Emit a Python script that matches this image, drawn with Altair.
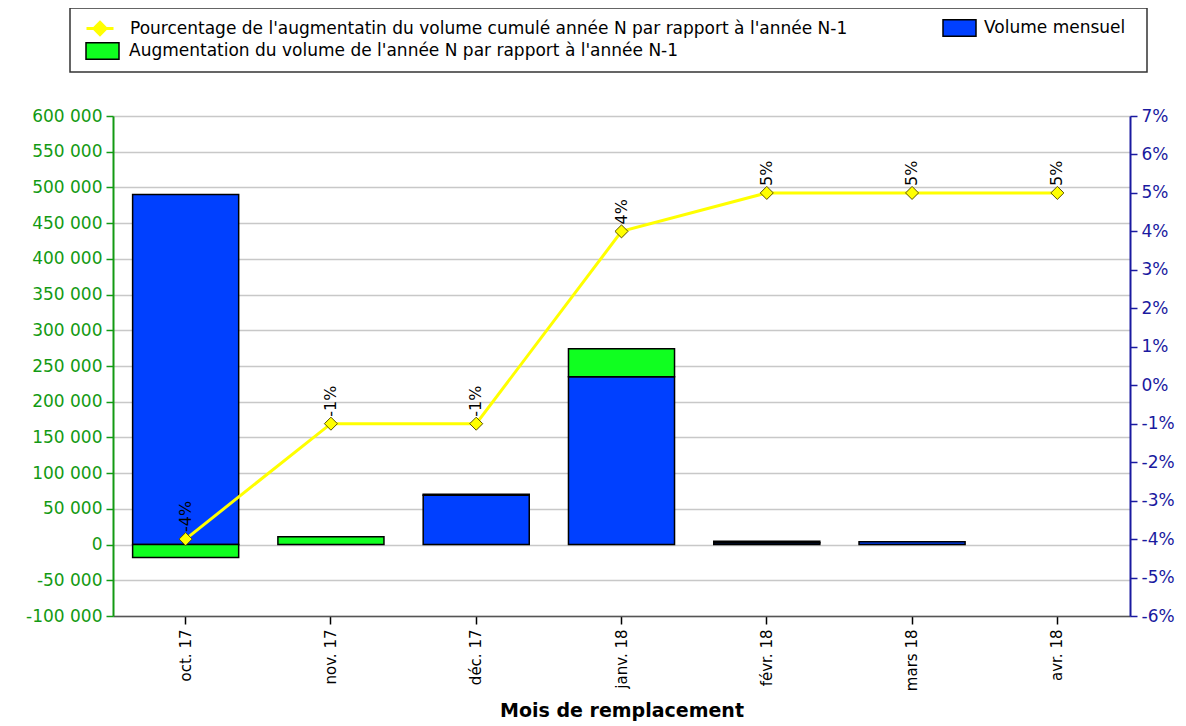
import altair as alt
import pandas as pd

# ---- data ----
months = ["oct. 17", "nov. 17", "déc. 17", "janv. 18", "févr. 18", "mars 18", "avr. 18"]
volume_mensuel = [490000, 0, 69000, 235000, 2500, 4000, 0]
augmentation = [-18000, 11000, 1500, 39000, 2000, 0, 0]
pourcentage = [-0.04, -0.01, -0.01, 0.04, 0.05, 0.05, 0.05]

left_ticks = [-100000, -50000, 0, 50000, 100000, 150000, 200000, 250000,
              300000, 350000, 400000, 450000, 500000, 550000, 600000]
right_ticks = [-0.06, -0.05, -0.04, -0.03, -0.02, -0.01, 0.0,
               0.01, 0.02, 0.03, 0.04, 0.05, 0.06, 0.07]

LBL_PCT = "Pourcentage de l'augmentatin du volume cumulé année N par rapport à l'année N-1"
LBL_VOL = "Volume mensuel"
LBL_AUG = "Augmentation du volume de l'année N par rapport à l'année N-1"

df = pd.DataFrame({"mois": months, "volume": volume_mensuel,
                   "aug": augmentation, "pct": pourcentage})
df["s_vol"] = LBL_VOL
df["s_aug"] = LBL_AUG
df["s_pct"] = LBL_PCT

# ---- styles ----
BLUE = "#0040ff"
GREEN = "#10ff20"
YELLOW = "#ffff00"
AX_GREEN = "#139a13"
AX_BLUE = "#1a1aa0"
FONT = "DejaVu Sans"

x_enc = alt.X(
    "mois:N", sort=months,
    scale=alt.Scale(paddingInner=0.27, paddingOuter=0.135),
    axis=alt.Axis(title="Mois de remplacement", labelAngle=-90, labelFont=FONT,
                  labelFontSize=15, labelColor="black", tickColor="black",
                  tickSize=8, tickWidth=1.5, labelPadding=5, domainColor="#555",
                  domainWidth=1.5, titleFont=FONT, titleFontSize=19,
                  titleFontWeight="bold", titleColor="black", titlePadding=11),
)

left_scale = alt.Scale(domain=[-100000, 600000], nice=False, zero=False)
left_axis = alt.Axis(title=None, values=left_ticks, format=",d", orient="left",
                     labelColor=AX_GREEN, domainColor=AX_GREEN, domainWidth=2,
                     tickColor=AX_GREEN, tickSize=7, tickWidth=1.5, labelPadding=4,
                     labelFont=FONT, labelFontSize=17, grid=True,
                     gridColor="#c8c8c8", gridWidth=1.5)

right_scale = alt.Scale(domain=[-0.06, 0.07], nice=False, zero=False)
right_axis = alt.Axis(title=None, values=right_ticks, format=".0%", orient="right",
                      labelColor=AX_BLUE, domainColor=AX_BLUE, domainWidth=2,
                      tickColor=AX_BLUE, tickSize=7, tickWidth=1.5, labelPadding=4,
                      labelFont=FONT, labelFontSize=17, grid=False)

RECT_PATH = "M-1,-0.5H1V0.5H-1Z"
LINE_PATH = "M-1,0H1M0,-0.45L0.45,0L0,0.45L-0.45,0Z"

def legend(x, y, path, size, stroke, sw, fill, offset):
    return alt.Legend(title=None, orient="none", legendX=x, legendY=y,
                      symbolType=path, symbolSize=size, symbolStrokeColor=stroke,
                      symbolStrokeWidth=sw, symbolFillColor=fill,
                      labelFont=FONT, labelFontSize=17, labelColor="black",
                      labelOffset=offset, labelLimit=1200, padding=0)

frame = alt.Chart(pd.DataFrame({"k": [0]})).mark_rect(
    fill="white", stroke="#333", strokeWidth=1.5
).encode(x=alt.value(-43), x2=alt.value(1034), y=alt.value(-108), y2=alt.value(-44))

blue = alt.Chart(df).transform_filter("datum.volume != 0").mark_bar(
    stroke="black", strokeWidth=1.5, opacity=1
).encode(
    x=x_enc,
    y=alt.Y("volume:Q", scale=left_scale, axis=left_axis),
    fill=alt.Fill("s_vol:N", scale=alt.Scale(domain=[LBL_VOL], range=[BLUE]),
                  legend=legend(829, -105.5, RECT_PATH, 1089, "black", 1.5, BLUE, 7)),
)

green = alt.Chart(df).transform_filter("datum.aug != 0").transform_calculate(
    base="datum.aug >= 0 ? datum.volume : 0",
    top="(datum.aug >= 0 ? datum.volume : 0) + datum.aug",
).mark_bar(stroke="black", strokeWidth=1.5, opacity=1).encode(
    x=x_enc,
    y=alt.Y("base:Q", scale=left_scale, axis=left_axis),
    y2="top:Q",
    color=alt.Color("s_aug:N", scale=alt.Scale(domain=[LBL_AUG], range=[GREEN]),
                    legend=legend(-28, -82.5, RECT_PATH, 1089, "black", 1.5, GREEN, 9)),
)

line = alt.Chart(df).mark_line(strokeWidth=3).encode(
    x=x_enc,
    y=alt.Y("pct:Q", scale=right_scale, axis=right_axis),
    stroke=alt.Stroke("s_pct:N", scale=alt.Scale(domain=[LBL_PCT], range=[YELLOW]),
                      legend=legend(-28, -102.5, LINE_PATH, 729, YELLOW, 3, YELLOW, 15)),
)

points = alt.Chart(df).mark_point(
    shape="diamond", filled=True, fill=YELLOW, stroke="#5a5000",
    strokeWidth=1, size=170, opacity=1
).encode(x=x_enc, y=alt.Y("pct:Q", scale=right_scale, axis=right_axis))

labels = alt.Chart(df).mark_text(
    angle=270, align="left", baseline="middle", dx=7, font=FONT,
    fontSize=16, color="black"
).encode(x=x_enc, y=alt.Y("pct:Q", scale=right_scale, axis=right_axis),
         text=alt.Text("pct:Q", format=".0%"))

chart = alt.layer(
    alt.layer(frame, blue, green),
    alt.layer(line, points, labels),
).resolve_scale(y="independent").properties(
    width=1017, height=500,
    autosize=alt.AutoSizeParams(type="none"),
    padding={"left": 105, "top": 108, "right": 48, "bottom": 110},
).configure_view(stroke="#555", strokeWidth=1.5).configure(
    locale={"number": {"decimal": ",", "thousands": " ", "grouping": [3],
                       "currency": ["", " €"], "minus": "-", "percent": "%"}}
)

chart.save("out.html", embed_options={"renderer": "svg", "actions": False})
